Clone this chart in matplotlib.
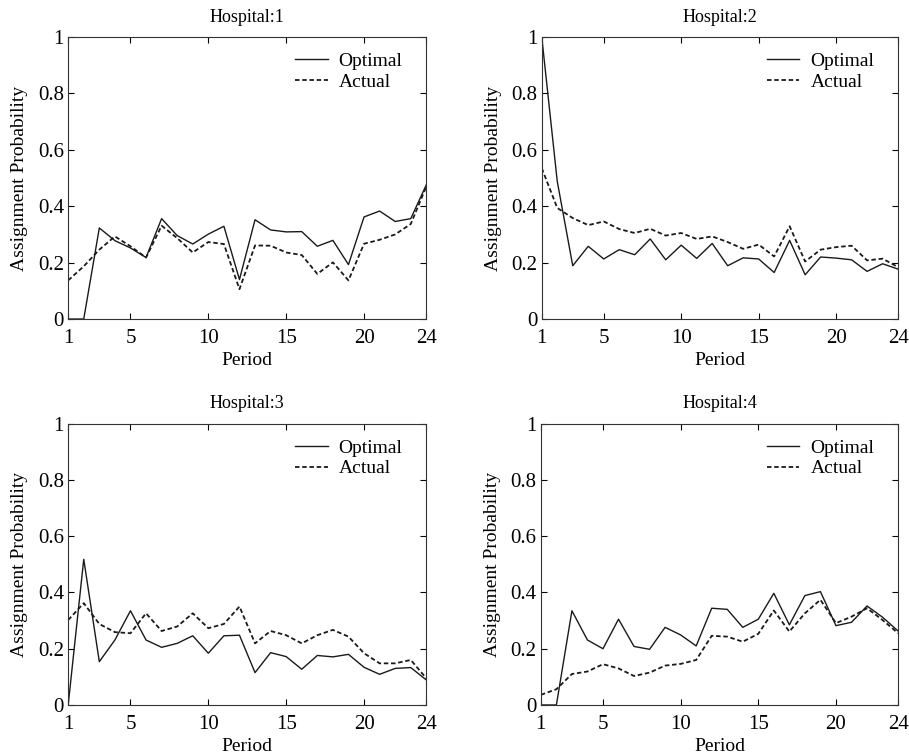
import matplotlib
matplotlib.use("Agg")
import matplotlib.pyplot as plt

plt.rcParams['font.family'] = ['Liberation Serif', 'DejaVu Serif']

periods = list(range(1, 25))
xtick_vals = [1, 5, 10, 15, 20, 24]
ytick_vals = [0, 0.2, 0.4, 0.6, 0.8, 1]
ytick_labels = ['0', '0.2', '0.4', '0.6', '0.8', '1']

opt_1 = [0.0, 0.0, 0.323, 0.278, 0.252, 0.218, 0.356, 0.296, 0.266, 0.301, 0.329, 0.14,
         0.352, 0.316, 0.309, 0.31, 0.258, 0.279, 0.193, 0.362, 0.383, 0.346, 0.356, 0.476]
act_1 = [0.137, 0.187, 0.246, 0.293, 0.258, 0.218, 0.331, 0.287, 0.236, 0.273, 0.266, 0.106,
         0.261, 0.26, 0.236, 0.227, 0.16, 0.201, 0.137, 0.267, 0.281, 0.3, 0.337, 0.47]

opt_2 = [1.0, 0.488, 0.189, 0.258, 0.213, 0.246, 0.228, 0.284, 0.21, 0.262, 0.215, 0.268,
         0.189, 0.217, 0.213, 0.165, 0.279, 0.157, 0.22, 0.216, 0.21, 0.169, 0.196, 0.177]
act_2 = [0.535, 0.394, 0.358, 0.333, 0.346, 0.319, 0.305, 0.32, 0.296, 0.305, 0.284, 0.293,
         0.273, 0.249, 0.264, 0.222, 0.329, 0.204, 0.246, 0.255, 0.26, 0.208, 0.214, 0.184]

opt_3 = [0.0, 0.518, 0.154, 0.231, 0.335, 0.231, 0.205, 0.219, 0.246, 0.184, 0.246, 0.248,
         0.115, 0.186, 0.172, 0.127, 0.176, 0.171, 0.18, 0.134, 0.109, 0.13, 0.133, 0.089]
act_3 = [0.302, 0.362, 0.288, 0.259, 0.255, 0.326, 0.263, 0.279, 0.326, 0.273, 0.288, 0.35,
         0.219, 0.263, 0.248, 0.219, 0.248, 0.267, 0.243, 0.184, 0.148, 0.148, 0.16, 0.095]

opt_4 = [0.0, 0.0, 0.335, 0.231, 0.2, 0.305, 0.208, 0.198, 0.276, 0.249, 0.21, 0.344,
         0.34, 0.276, 0.305, 0.397, 0.285, 0.389, 0.403, 0.282, 0.294, 0.352, 0.312, 0.263]
act_4 = [0.036, 0.056, 0.11, 0.119, 0.145, 0.13, 0.103, 0.115, 0.14, 0.146, 0.16, 0.246,
         0.243, 0.225, 0.253, 0.336, 0.261, 0.326, 0.374, 0.291, 0.314, 0.344, 0.302, 0.255]

panels = [
    ("Hospital:1", opt_1, act_1, [0.075, 0.578, 0.394, 0.373]),
    ("Hospital:2", opt_2, act_2, [0.596, 0.578, 0.392, 0.373]),
    ("Hospital:3", opt_3, act_3, [0.075, 0.0675, 0.394, 0.372]),
    ("Hospital:4", opt_4, act_4, [0.595, 0.0675, 0.393, 0.372]),
]

fig = plt.figure(figsize=(9.09, 7.56), dpi=100)

for title, opt, act, pos in panels:
    ax = fig.add_axes(pos)
    ax.plot(periods, opt, color='#1a1a1a', lw=1.0, label='Optimal')
    ax.plot(periods, act, color='#1a1a1a', lw=1.3, ls=(0, (2.5, 1.5)), label='Actual')
    ax.set_xlim(1, 24)
    ax.set_ylim(0, 1)
    ax.set_xticks(xtick_vals)
    ax.set_yticks(ytick_vals)
    ax.set_yticklabels(ytick_labels)
    ax.tick_params(direction='in', top=True, right=True, labelsize=15, length=4)
    ax.tick_params(axis='x', pad=7)
    ax.tick_params(axis='y', pad=3)
    ax.set_title(title, fontsize=13, pad=11)
    ax.set_xlabel('Period', fontsize=14, labelpad=3)
    ax.set_ylabel('Assignment Probability', fontsize=14, labelpad=7)
    # legend without frame, pulled slightly in from the right edge
    ax.legend(loc='upper right', bbox_to_anchor=(0.977, 1.0), frameon=False,
              fontsize=14, handlelength=1.65, handletextpad=0.57,
              labelspacing=0.15, borderaxespad=0.4)
    for s in ax.spines.values():
        s.set_linewidth(0.8)
        s.set_color('#333333')
        s.set_zorder(3)

fig.savefig('out.png', dpi=100)
